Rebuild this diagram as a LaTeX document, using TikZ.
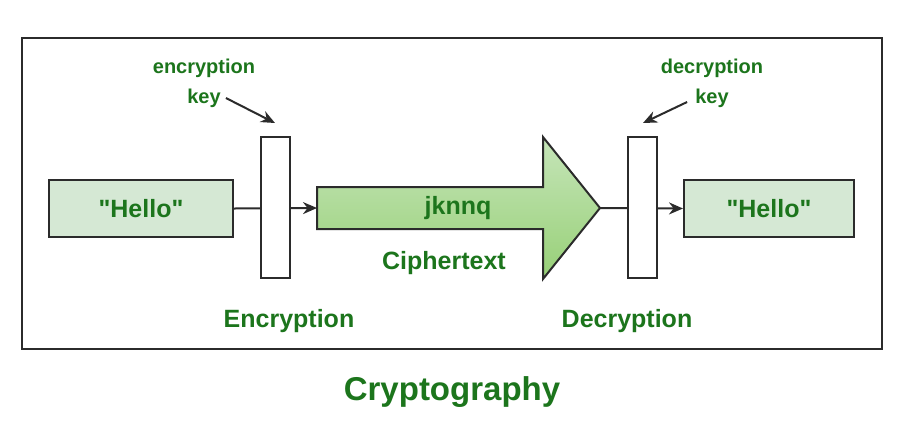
\documentclass[tikz,border=0pt]{standalone}
\usepackage{fontspec}
\setmainfont{Liberation Sans}[Ligatures=TeXOff]
\usetikzlibrary{arrows.meta}
\definecolor{txtgreen}{HTML}{1C751C}
\definecolor{boxgreen}{HTML}{D5E8D4}
\definecolor{topgreen}{HTML}{C6E5B9}
\definecolor{darkgreen}{HTML}{97D077}
\definecolor{edge}{HTML}{2B2B2B}

\begin{document}
\begin{tikzpicture}[>={Stealth[length=14pt,width=12pt]}, line join=miter, x=1pt, y=-1pt]
\tikzset{
  msgbox/.style={draw=edge, line width=2pt, fill=boxgreen, minimum height=57pt, inner sep=0pt},
  bar/.style={draw=edge, line width=2pt, fill=white, minimum width=29pt, minimum height=141pt, inner sep=0pt},
  lab/.style={text=txtgreen, font=\bfseries\fontsize{25}{28}\selectfont, inner sep=0pt},
  small/.style={text=txtgreen, font=\bfseries\fontsize{20}{23}\selectfont, inner sep=0pt},
  wire/.style={draw=edge, line width=2pt},
}
\useasboundingbox (0,0) rectangle (901,432);

% outer frame
\draw[edge, line width=2.2pt] (22,38) rectangle (882,349);

% cipher arrow
\coordinate (ctail) at (317,208);
\coordinate (ctip) at (600,208);
\shade[top color=topgreen, bottom color=darkgreen, draw=edge, line width=2pt]
  (317,187) -- (543,187) -- (543,137) -- (ctip) -- (543,279) -- (543,229) -- (317,229) -- cycle;
\node[lab] (cipher) at (458,208) {jknnq};
\node[lab] (ciphertext) at (444,263) {Ciphertext};

% messages
\node[msgbox, minimum width=184pt] (plain) at (141,208.5) {};
\node[lab] (plaintxt) at (plain) {"Hello"};
\node[msgbox, minimum width=170pt] (plainout) at (769,208.5) {};
\node[lab] (plainouttxt) at (plainout) {"Hello"};

% wires behind the bars
\draw[wire, ->] (plain.east) -- (ctail);
\draw[wire, ->] (ctip) -- (plainout.west);

% bars
\node[bar] (enc) at (275.5,207.5) {};
\node[bar] (dec) at (642.5,207.5) {};
\node[lab] (enclab) at (289,321) {Encryption};
\node[lab] (declab) at (627,321) {Decryption};

% keys
\node[small] (enctxt) at (204,68) {encryption};
\node[small] (enckey) at (204,98) {key};
\coordinate (encin) at (275,123);
\draw[wire, ->] ([xshift=5pt]enckey.east) -- (encin);

\node[small] (dectxt) at (712,68) {decryption};
\node[small] (deckey) at (712,98) {key};
\coordinate (decin) at (643,123);
\draw[wire, ->] ([xshift=-8pt,yshift=-4pt]deckey.west) -- (decin);

% title
\node[text=txtgreen, font=\bfseries\fontsize{33}{36}\selectfont, inner sep=0pt] (title) at (452,392) {Cryptography};
\end{tikzpicture}
\end{document}
